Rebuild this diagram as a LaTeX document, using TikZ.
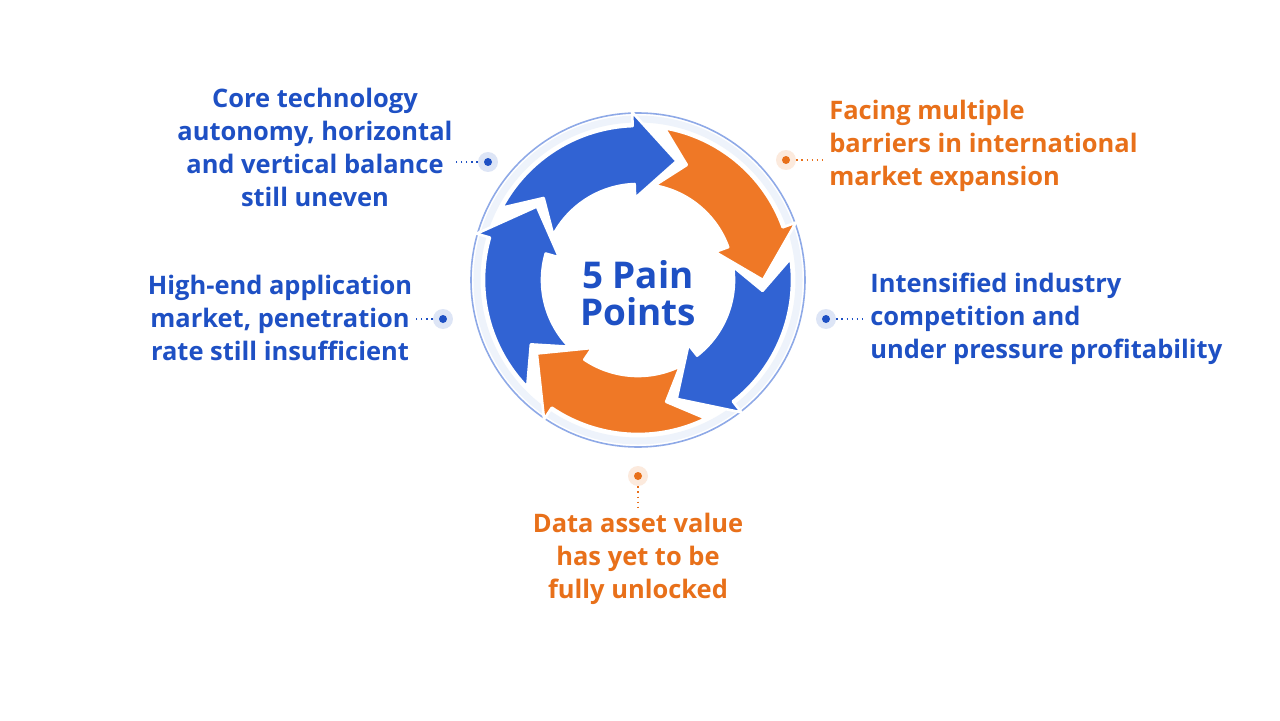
\documentclass[tikz,border=0pt]{standalone}
\usepackage{fontspec}
\setmainfont{Open Sans}
\usepackage{xcolor}
\usetikzlibrary{positioning}

\definecolor{painblue}{HTML}{3163D3}
\definecolor{painorange}{HTML}{EF7826}
\definecolor{textblue}{HTML}{1E50C4}
\definecolor{textorange}{HTML}{E8701A}

% one arrow of the cycle: tail angle, tip angle, colour
\newcommand{\cyclearrow}[3]{%
  \fill[#3, draw=white, line width=1.5pt, line join=round]
    (#1:154) arc[start angle=#1, end angle=#2+20, radius=154]
    -- (#2+20:168) -- (#2:125) -- (#2+20:82) -- (#2+20:96)
    arc[start angle=#2+20, end angle=#1, radius=96]
    -- (#1-13:125) -- cycle;}

\begin{document}
\begin{tikzpicture}[
    x=0.02cm, y=0.02cm,
    label/.style={inner sep=0pt, font=\bfseries\fontsize{14.5}{18.8}\selectfont},
    bluelabel/.style={label, text=textblue},
    orangelabel/.style={label, text=textorange},
    halo/.style={circle, fill=#1!15, minimum size=0.4cm, inner sep=0pt,
      path picture={\fill[#1] (path picture bounding box.center) circle[radius=0.8mm];}},
    leader/.style={dotted, line width=0.9pt}
  ]
    \useasboundingbox[fill=white] (-638,-440) rectangle (642,280);

    % ring
    \draw[painblue!8, line width=4pt] (0,0) circle[radius=161];
    \draw[painblue!55, line width=0.9pt] (0,0) circle[radius=167];

    % arrows, clockwise
    \cyclearrow{152}{72}{painblue}
    \cyclearrow{80}{0}{painorange}
    \cyclearrow{8}{-72}{painblue}
    \cyclearrow{-64}{-144}{painorange}
    \cyclearrow{-136}{-216}{painblue}

    \node[textblue, font=\bfseries\fontsize{21}{21}\selectfont, align=center] (center) at (0,-13) {5 Pain\\Points};

    % labels
    \node[bluelabel, align=center] (tl) at (-323,133) {Core technology\\autonomy, horizontal\\and vertical balance\\still uneven};
    \node[orangelabel, align=left, anchor=west] (tr) at (191,134) {Facing multiple\\barriers in international\\market expansion};
    \node[bluelabel, align=center] (ml) at (-358,-38) {High-end application\\market, penetration\\rate still insufficient};
    \node[bluelabel, align=left, anchor=west] (mr) at (232,-39) {Intensified industry\\competition and\\under pressure profitability};
    \node[orangelabel, align=center] (bm) at (0,-279) {Data asset value\\has yet to be\\fully unlocked};

    % dots
    \node[halo=textblue] (tldot) at (-150,118) {};
    \node[halo=textorange] (trdot) at (148,120) {};
    \node[halo=textblue] (mldot) at (-195,-39) {};
    \node[halo=textblue] (mrdot) at (188,-39) {};
    \node[halo=textorange] (bmdot) at (0,-196) {};

    \draw[leader, textblue] (tldot.west) -- ([xshift=2pt]tldot -| tl.east);
    \draw[leader, textorange] (trdot.east) -- ([xshift=-4pt]trdot -| tr.west);
    \draw[leader, textblue] (mldot.west) -- (mldot -| ml.east);
    \draw[leader, textblue] (mrdot.east) -- ([xshift=-4pt]mrdot -| mr.west);
    \draw[leader, textorange] (bmdot.south) -- ([yshift=2pt]bmdot |- bm.north);
\end{tikzpicture}
\end{document}
